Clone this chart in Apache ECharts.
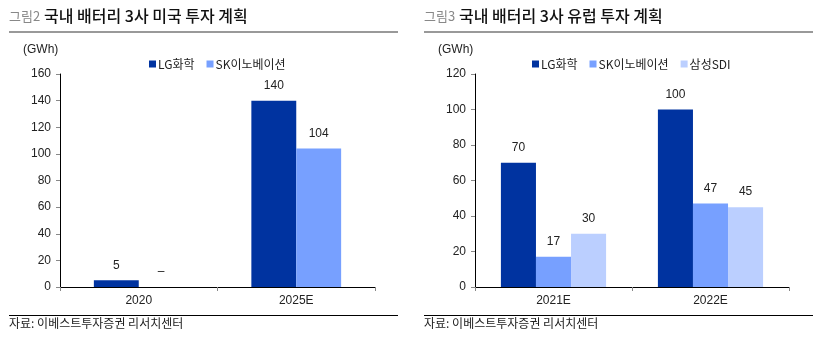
<!DOCTYPE html>
<html>
<head>
<meta charset="utf-8">
<script src="https://cdn.jsdelivr.net/npm/echarts@6/dist/echarts.min.js"></script>
<style>
  html, body { margin: 0; padding: 0; background: #fff; }
  #main { width: 813px; height: 351px; }
</style>
</head>
<body>
<div id="main"></div>
<script>
// 데이터
var usCategories = ['2020', '2025E'];
var usLG = [5, 140];
var usSK = [0, 104];   // 2020 SK는 '–' 표시

var euCategories = ['2021E', '2022E'];
var euLG = [70, 100];
var euSK = [17, 47];
var euSDI = [30, 45];

var usTicks = [0, 20, 40, 60, 80, 100, 120, 140, 160];
var euTicks = [0, 20, 40, 60, 80, 100, 120];

var C_LG = '#0033a0', C_SK = '#77a0ff', C_SDI = '#bbcfff';
var FONT = '"Liberation Sans", Arial, "Noto Sans CJK KR", sans-serif';
var KFONT = '"Noto Sans CJK KR", "Liberation Sans", sans-serif';

var chart = echarts.init(document.getElementById('main'), null, { renderer: 'canvas' });

function lbl() {
    return {
        show: true, position: 'top', distance: 9,
        fontFamily: FONT, fontSize: 12, color: '#222',
        formatter: function(p) { return p.value === 0 ? '–' : p.value; }
    };
}
function xAx(cats, idx) {
    return {
        type: 'category', gridIndex: idx, data: cats,
        axisLine: { lineStyle: { color: '#000', width: 1 } },
        axisTick: { show: true, length: 4, lineStyle: { color: '#888' } },
        axisLabel: { fontFamily: FONT, fontSize: 12, color: '#222', margin: 8 }
    };
}
function yAx(ticks, idx) {
    return {
        type: 'value', gridIndex: idx,
        min: ticks[0], max: ticks[ticks.length - 1], interval: ticks[1] - ticks[0],
        axisLine: { show: true, lineStyle: { color: '#000', width: 1 } },
        axisTick: { show: true, length: 4, lineStyle: { color: '#888' } },
        splitLine: { show: false },
        axisLabel: { fontFamily: FONT, fontSize: 12, color: '#222', margin: 9 }
    };
}

var option = {
    animation: false,
    textStyle: { fontFamily: KFONT },
    legend: [
        {
            left: 144, top: 53, itemWidth: 7, itemHeight: 7, itemGap: 12,
            icon: 'rect', data: ['LG화학', 'SK이노베이션'],
            textStyle: { fontFamily: KFONT, fontSize: 12, color: '#222', padding: [0, 0, 0, -3] }
        },
        {
            left: 527, top: 53, itemWidth: 7, itemHeight: 7, itemGap: 12,
            icon: 'rect', data: ['LG화학', 'SK이노베이션', '삼성SDI'],
            textStyle: { fontFamily: KFONT, fontSize: 12, color: '#222', padding: [0, 0, 0, -3] }
        }
    ],
    grid: [
        { left: 60, right: 438, top: 74, bottom: 64 },
        { left: 475, right: 24, top: 74, bottom: 64 }
    ],
    xAxis: [xAx(usCategories, 0), xAx(euCategories, 1)],
    yAxis: [yAx(usTicks, 0), yAx(euTicks, 1)],
    series: [
        { name: 'LG화학', type: 'bar', xAxisIndex: 0, yAxisIndex: 0, data: usLG,
          barGap: '0%', barCategoryGap: '43%', itemStyle: { color: C_LG }, label: lbl() },
        { name: 'SK이노베이션', type: 'bar', xAxisIndex: 0, yAxisIndex: 0, data: usSK,
          barGap: '0%', barCategoryGap: '43%', itemStyle: { color: C_SK }, label: lbl() },
        { name: 'LG화학', type: 'bar', xAxisIndex: 1, yAxisIndex: 1, data: euLG,
          barGap: '0%', barCategoryGap: '33%', itemStyle: { color: C_LG }, label: lbl() },
        { name: 'SK이노베이션', type: 'bar', xAxisIndex: 1, yAxisIndex: 1, data: euSK,
          barGap: '0%', barCategoryGap: '33%', itemStyle: { color: C_SK }, label: lbl() },
        { name: '삼성SDI', type: 'bar', xAxisIndex: 1, yAxisIndex: 1, data: euSDI,
          barGap: '0%', barCategoryGap: '33%', itemStyle: { color: C_SDI }, label: lbl() }
    ],
    graphic: [
        // 제목
        { type: 'text', left: 9, top: 10, style: { text: '그림2', font: '13px ' + KFONT, fill: '#888' } },
        { type: 'text', left: 44, top: 8, style: { text: '국내 배터리 3사 미국 투자 계획', font: '500 16px ' + KFONT, fill: '#111' } },
        { type: 'text', left: 424, top: 10, style: { text: '그림3', font: '13px ' + KFONT, fill: '#888' } },
        { type: 'text', left: 459, top: 8, style: { text: '국내 배터리 3사 유럽 투자 계획', font: '500 16px ' + KFONT, fill: '#111' } },
        { type: 'rect', shape: { x: 9, y: 31, width: 389, height: 2 }, style: { fill: '#999' } },
        { type: 'rect', shape: { x: 424, y: 31, width: 389, height: 2 }, style: { fill: '#999' } },
        // 단위
        { type: 'text', left: 23, top: 44, style: { text: '(GWh)', font: '12px ' + FONT, fill: '#222' } },
        { type: 'text', left: 438, top: 44, style: { text: '(GWh)', font: '12px ' + FONT, fill: '#222' } },
        // 출처
        { type: 'rect', shape: { x: 9, y: 315, width: 389, height: 1 }, style: { fill: '#000' } },
        { type: 'rect', shape: { x: 424, y: 315, width: 389, height: 1 }, style: { fill: '#000' } },
        { type: 'text', left: 9, top: 317, style: { text: '자료: 이베스트투자증권 리서치센터', font: '12px ' + KFONT, fill: '#222' } },
        { type: 'text', left: 424, top: 317, style: { text: '자료: 이베스트투자증권 리서치센터', font: '12px ' + KFONT, fill: '#222' } }
    ]
};

chart.setOption(option);
window.onresize = function() {
    chart.resize();
};
</script>
</body>
</html>
